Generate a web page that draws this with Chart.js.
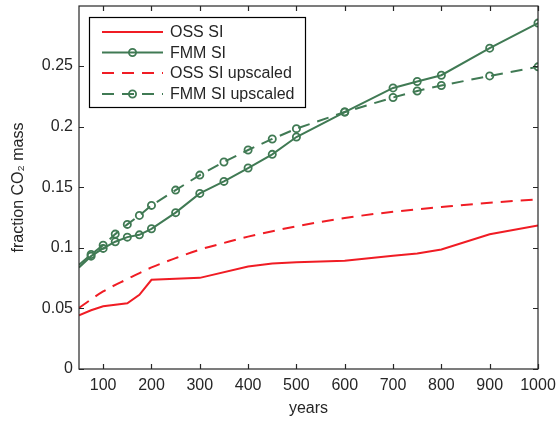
<!DOCTYPE html>
<html>
<head>
<meta charset="utf-8">
<script src="https://cdn.jsdelivr.net/npm/chart.js@4.4.0/dist/chart.umd.min.js"></script>
<style>
html,body{margin:0;padding:0;background:#fff;}
#wrap{width:558px;height:421px;position:relative;}
</style>
</head>
<body>
<div id="wrap"><canvas id="c" width="558" height="421"></canvas></div>
<script>
// ---- data ----
const seriesLabels = ['OSS SI', 'FMM SI', 'OSS SI upscaled', 'FMM SI upscaled'];

const ossX = [50, 75, 100, 150, 175, 200, 300, 400, 450, 500, 600, 700, 750, 800, 900, 1000];
const ossY = [0.0443, 0.0485, 0.0517, 0.0542, 0.0612, 0.0736, 0.0752, 0.0845, 0.0870, 0.0880, 0.0893, 0.0935, 0.0953, 0.0986, 0.1112, 0.1184];

const fmmX = [50, 75, 100, 125, 150, 175, 200, 250, 300, 350, 400, 450, 500, 600, 700, 750, 800, 900, 1000];
const fmmY = [0.0838, 0.0931, 0.0995, 0.1050, 0.1088, 0.1107, 0.1157, 0.1290, 0.1449, 0.1548, 0.1658, 0.1771, 0.1914, 0.2120, 0.2319, 0.2372, 0.2424, 0.2647, 0.2854];

const ossUpX = [50, 100, 150, 200, 250, 300, 350, 400, 500, 600, 700, 800, 900, 1000];
const ossUpY = [0.0504, 0.0640, 0.0742, 0.0838, 0.0915, 0.0985, 0.1040, 0.1092, 0.1177, 0.1246, 0.1297, 0.1336, 0.1372, 0.1399];

const fmmUpX = [50, 75, 100, 125, 150, 175, 200, 250, 300, 350, 400, 450, 500, 600, 700, 750, 800, 900, 1000];
const fmmUpY = [0.0860, 0.0945, 0.1022, 0.1113, 0.1193, 0.1267, 0.1350, 0.1476, 0.1600, 0.1708, 0.1807, 0.1898, 0.1983, 0.2120, 0.2240, 0.2294, 0.2339, 0.2418, 0.2493];

const xTicks = [100, 200, 300, 400, 500, 600, 700, 800, 900, 1000];
const yTicks = [0, 0.05, 0.1, 0.15, 0.2, 0.25];
const yTickLabels = ['0', '0.05', '0.1', '0.15', '0.2', '0.25'];
const xTitle = 'years';
const yTitle = 'fraction CO\u2082 mass';

// ---- styling ----
const RED = 'rgb(240,28,36)';
const GREEN = 'rgb(64,122,84)';
const TXT = '#262626';
const FONT = 'Liberation Sans, Arial, Helvetica, sans-serif';

function pts(xs, ys){ return xs.map((x,i)=>({x:x, y:ys[i]})); }
function markerRadii(xs){ return xs.map(x => x === 50 ? 0 : 3.6); }

const datasets = [
  {label: seriesLabels[0], data: pts(ossX, ossY), borderColor: RED, borderWidth: 2, pointRadius: 0, fill:false, tension:0, _marker:false},
  {label: seriesLabels[1], data: pts(fmmX, fmmY), borderColor: GREEN, borderWidth: 2, pointRadius: markerRadii(fmmX), pointBorderColor: GREEN, pointBackgroundColor: 'rgba(255,255,255,0)', pointBorderWidth: 1.8, fill:false, tension:0, _marker:true},
  {label: seriesLabels[2], data: pts(ossUpX, ossUpY), borderColor: RED, borderWidth: 2, borderDash:[12,8], pointRadius: 0, fill:false, tension:0.3, cubicInterpolationMode:'monotone', _marker:false},
  {label: seriesLabels[3], data: pts(fmmUpX, fmmUpY), borderColor: GREEN, borderWidth: 2, borderDash:[12,8], pointRadius: markerRadii(fmmUpX), pointBorderColor: GREEN, pointBackgroundColor: 'rgba(255,255,255,0)', pointBorderWidth: 1.8, fill:false, tension:0, _marker:true}
];

const framePlugin = {
  id: 'frame',
  afterDatasetsDraw(chart){
    const {ctx, chartArea:a, scales:{x, y}} = chart;
    ctx.save();
    ctx.strokeStyle = TXT;
    ctx.lineWidth = 1.2;
    ctx.strokeRect(a.left, a.top, a.right - a.left, a.bottom - a.top);
    const tl = 5;
    ctx.beginPath();
    xTicks.forEach(v => {
      const px = Math.round(x.getPixelForValue(v)) + 0.5;
      ctx.moveTo(px, a.bottom); ctx.lineTo(px, a.bottom - tl);
      ctx.moveTo(px, a.top); ctx.lineTo(px, a.top + tl);
    });
    yTicks.forEach(v => {
      const py = Math.round(y.getPixelForValue(v)) + 0.5;
      ctx.moveTo(a.left, py); ctx.lineTo(a.left + tl, py);
      ctx.moveTo(a.right, py); ctx.lineTo(a.right - tl, py);
    });
    ctx.stroke();

    // legend box (MATLAB style)
    const bx = 89, by = 17, bw = 216, bh = 90;
    ctx.fillStyle = '#fff';
    ctx.fillRect(bx, by, bw, bh);
    ctx.strokeStyle = '#000';
    ctx.lineWidth = 1.2;
    ctx.strokeRect(bx + 0.5, by + 0.5, bw, bh);
    const rows = [32, 52.5, 73, 94];
    chart.data.datasets.forEach((ds, i) => {
      const ry = rows[i];
      ctx.save();
      ctx.strokeStyle = ds.borderColor;
      ctx.lineWidth = ds.borderWidth;
      if (ds.borderDash) ctx.setLineDash(ds.borderDash);
      ctx.beginPath();
      ctx.moveTo(102, ry); ctx.lineTo(163, ry);
      ctx.stroke();
      ctx.setLineDash([]);
      if (ds._marker) {
        ctx.lineWidth = 1.8;
        ctx.beginPath();
        ctx.arc(132.5, ry, 3.6, 0, Math.PI * 2);
        ctx.stroke();
      }
      ctx.restore();
      ctx.fillStyle = TXT;
      ctx.font = '16px ' + FONT;
      ctx.textBaseline = 'middle';
      ctx.textAlign = 'left';
      ctx.fillText(ds.label, 170, ry + 1);
    });
    ctx.restore();
  }
};

new Chart(document.getElementById('c'), {
  type: 'line',
  data: { datasets: datasets },
  options: {
    responsive: false,
    animation: false,
    devicePixelRatio: 1,
    layout: { padding: { top: 6, right: 20, left: 0, bottom: 0 } },
    plugins: { legend: { display: false }, tooltip: { enabled: false } },
    scales: {
      x: {
        type: 'linear', min: 50, max: 1000,
        grid: { display: false, drawTicks: false },
        border: { display: false },
        afterBuildTicks: s => { s.ticks = xTicks.map(v => ({value: v})); },
        afterFit: s => { s.height = 52; s.paddingLeft = 0; s.paddingRight = 0; },
        ticks: { color: TXT, font: { size: 16, family: FONT }, padding: 7, maxRotation: 0, autoSkip: false,
                 callback: v => String(v) },
        title: { display: true, text: xTitle, color: TXT, font: { size: 16, family: FONT }, padding: { top: 0, bottom: 3 } }
      },
      y: {
        type: 'linear', min: 0, max: 0.2995,
        grid: { display: false, drawTicks: false },
        border: { display: false },
        afterBuildTicks: s => { s.ticks = yTicks.map(v => ({value: v})); },
        afterFit: s => { s.width = 79; s.paddingTop = 0; s.paddingBottom = 0; },
        ticks: { color: TXT, font: { size: 16, family: FONT }, padding: 6, autoSkip: false,
                 callback: (v) => { const i = yTicks.indexOf(v); return i >= 0 ? yTickLabels[i] : ''; } },
        title: { display: true, text: yTitle, color: TXT, font: { size: 16, family: FONT }, padding: { top: 9, bottom: 0 } }
      }
    }
  },
  plugins: [framePlugin]
});
</script>
</body>
</html>
